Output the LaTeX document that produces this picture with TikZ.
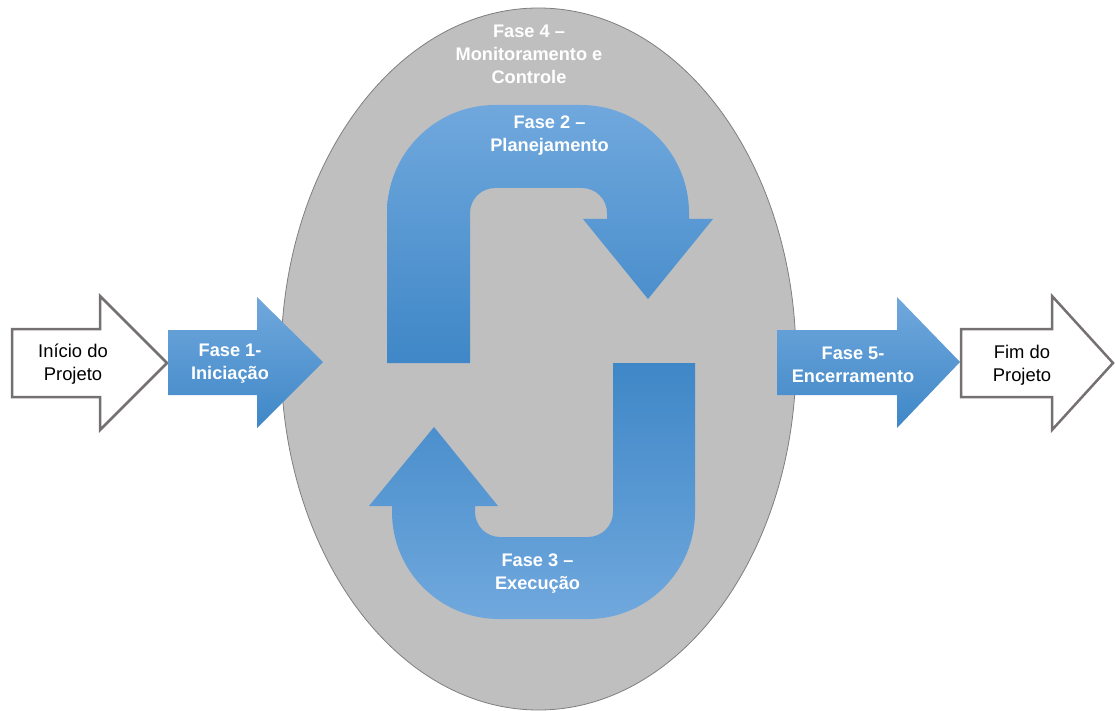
\documentclass[tikz,border=0pt]{standalone}
\usepackage{fontspec}
\setmainfont{Liberation Sans}
\usetikzlibrary{shapes.geometric}
\definecolor{ellfill}{RGB}{191,191,191}
\definecolor{ellline}{RGB}{127,127,127}
\definecolor{bluelight}{RGB}{112,168,221}
\definecolor{bluedark}{RGB}{63,135,199}
\definecolor{outlinegray}{RGB}{118,113,113}
\begin{document}
\begin{tikzpicture}[x=1pt,y=-1pt,
  phase/.style={text=white,font=\bfseries\fontsize{18.2}{23}\selectfont,align=center,inner sep=0pt},
  plainlbl/.style={text=black,font=\fontsize{18.4}{23}\selectfont,align=center,inner sep=0pt},
  bluedown/.style={top color=bluelight,bottom color=bluedark},
  blueup/.style={top color=bluedark,bottom color=bluelight},
  whitearrow/.style={draw=outlinegray,line width=2.5pt,fill=white,line join=miter}]
\useasboundingbox (0,0) rectangle (1115,711);

% Phase 4 ellipse
\node[ellipse,draw=ellline,fill=ellfill,line width=0.8pt,inner sep=0pt,
      minimum width=515pt,minimum height=702pt] (fase4) at (538.5,359) {};
\node[phase] (t4) at (529,54) {Fase 4 --\\Monitoramento e\\Controle};

% Start arrow
\draw[whitearrow] (12,329) -- (100,329) -- (100,296) -- (167,363) -- (100,430) -- (100,397) -- (12,397) -- cycle;
\node[plainlbl] (inicio) at (73,364) {Início do\\Projeto};

% Phase 1 arrow
\shade[bluedown] (168,330) -- (257,330) -- (257,297) -- (323,362) -- (257,428) -- (257,395) -- (168,395) -- cycle;
\node[phase] (f1) at (230,364) {Fase 1-\\Iniciação};

% Phase 2 U arrow (top)
\shade[bluedown] (387,363) -- (387,213) .. controls (387,153.4) and (435.4,105) .. (495,105)
  -- (581,105) .. controls (640.6,105) and (689,153.4) .. (689,213)
  -- (689,219) -- (713,219) -- (648,299) -- (583,219) -- (607,219) -- (607,213)
  .. controls (607,199.2) and (595.8,188) .. (582,188) -- (495,188)
  .. controls (481.2,188) and (470,199.2) .. (470,213) -- (470,363) -- cycle;
\node[phase] (f2) at (549.5,136) {Fase 2 --\\Planejamento};

% Phase 3 U arrow (bottom)
\shade[blueup] (613,363) -- (695,363) -- (695,512) .. controls (695,571.1) and (647.1,619) .. (588,619)
  -- (499,619) .. controls (439.9,619) and (392,571.1) .. (392,512)
  -- (392,506) -- (369,506) -- (434,427) -- (498,506) -- (475,506) -- (475,512)
  .. controls (475,525.8) and (486.2,537) .. (500,537) -- (588,537)
  .. controls (601.8,537) and (613,525.8) .. (613,512) -- cycle;
\node[phase] (f3) at (537.5,574) {Fase 3 --\\Execução};

% Phase 5 arrow
\shade[bluedown] (777,330) -- (897,330) -- (897,297) -- (960,362) -- (897,428) -- (897,395) -- (777,395) -- cycle;
\node[phase] (f5) at (853,365) {Fase 5-\\Encerramento};

% End arrow
\draw[whitearrow] (961,329) -- (1052,329) -- (1052,296) -- (1113,363) -- (1052,430) -- (1052,397) -- (961,397) -- cycle;
\node[plainlbl] (fim) at (1022,365) {Fim do\\Projeto};
\end{tikzpicture}
\end{document}
